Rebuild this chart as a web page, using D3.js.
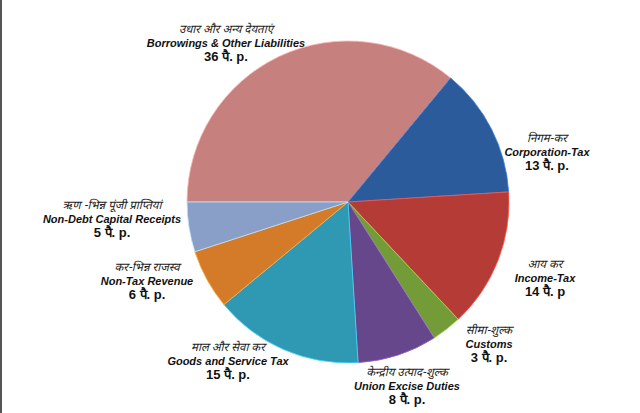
<!DOCTYPE html>
<html><head><meta charset="utf-8">
<script src="https://cdn.jsdelivr.net/npm/d3@7"></script>
<style>
html,body{margin:0;padding:0;background:#fff;}
svg{display:block;}
.en{font-family:"Liberation Sans",Arial,sans-serif;font-weight:bold;font-style:italic;font-size:11px;fill:#111;}
.hi{font-family:"Noto Sans Devanagari","Lohit Devanagari","Noto Sans",sans-serif;font-style:italic;font-size:11.5px;fill:#222;}
.num{font-family:"Liberation Sans",Arial,sans-serif;font-weight:bold;font-size:13px;fill:#111;}
</style></head>
<body>
<svg id="c" width="640" height="413"></svg>
<script>
const categories = ["Borrowings & Other Liabilities","Corporation-Tax","Income-Tax","Customs","Union Excise Duties","Goods and Service Tax","Non-Tax Revenue","Non-Debt Capital Receipts"];
const hindiLabels = ["उधार और अन्य देयताएं","निगम-कर","आय कर","सीमा-शुल्क","केन्द्रीय उत्पाद-शुल्क","माल और सेवा कर","कर-भिन्न राजस्व","ऋण -भिन्न पूंजी प्राप्तियां"];
const values = [36,13,14,3,8,15,6,5];
const valueLabels = ["36 पै. p.","13 पै. p.","14 पै. p","3 पै. p.","8 पै. p.","15 पै. p.","6 पै. p.","5 पै. p."];
const colors = ["#dc8e8c","#3065ab","#c9423c","#80ad3e","#734f9c","#34a9c7","#ec892e","#98b1dd"];
// label anchor positions (centre of the 3-line block)
const labelPos = [[226,44],[547,153],[545,279],[489,345],[407,387],[228,362],[147,282],[112,220]];

const svg = d3.select("#c");
svg.append("rect").attr("x",0).attr("y",0).attr("width",2).attr("height",413).attr("fill","#555");

const cx = 348, cy = 202, r = 161;
const defs = svg.append("defs");
colors.forEach((c,i)=>{
  const g = defs.append("radialGradient").attr("id","g"+i)
    .attr("gradientUnits","userSpaceOnUse").attr("cx",cx).attr("cy",cy).attr("r",r);
  g.append("stop").attr("offset","0%").attr("stop-color",c);
  g.append("stop").attr("offset","90%").attr("stop-color",c);
  g.append("stop").attr("offset","97%").attr("stop-color",d3.color(c).brighter(0.25));
  g.append("stop").attr("offset","100%").attr("stop-color",d3.color(c).darker(0.3));
});

const pie = d3.pie().sort(null).value(d=>d).startAngle(-Math.PI/2).endAngle(1.5*Math.PI);
const arc = d3.arc().innerRadius(0).outerRadius(r);
const g = svg.append("g").attr("transform",`translate(${cx},${cy})`);
g.selectAll("path").data(pie(values)).join("path")
  .attr("d",arc)
  .attr("fill",(d,i)=>`url(#g${i})`)
  .attr("stroke",(d,i)=>d3.color(colors[i]).brighter(0.7))
  .attr("stroke-width",0.8)
  .attr("stroke-linejoin","round");

const lab = svg.append("g");
categories.forEach((c,i)=>{
  const [x,y] = labelPos[i];
  lab.append("text").attr("class","hi").attr("x",x).attr("y",y-14).attr("text-anchor","middle").attr("dominant-baseline","middle").text(hindiLabels[i]);
  lab.append("text").attr("class","en").attr("x",x).attr("y",y).attr("text-anchor","middle").attr("dominant-baseline","middle").text(c);
  lab.append("text").attr("class","num").attr("x",x).attr("y",y+14).attr("text-anchor","middle").attr("dominant-baseline","middle").text(valueLabels[i]);
});
</script>
</body></html>
